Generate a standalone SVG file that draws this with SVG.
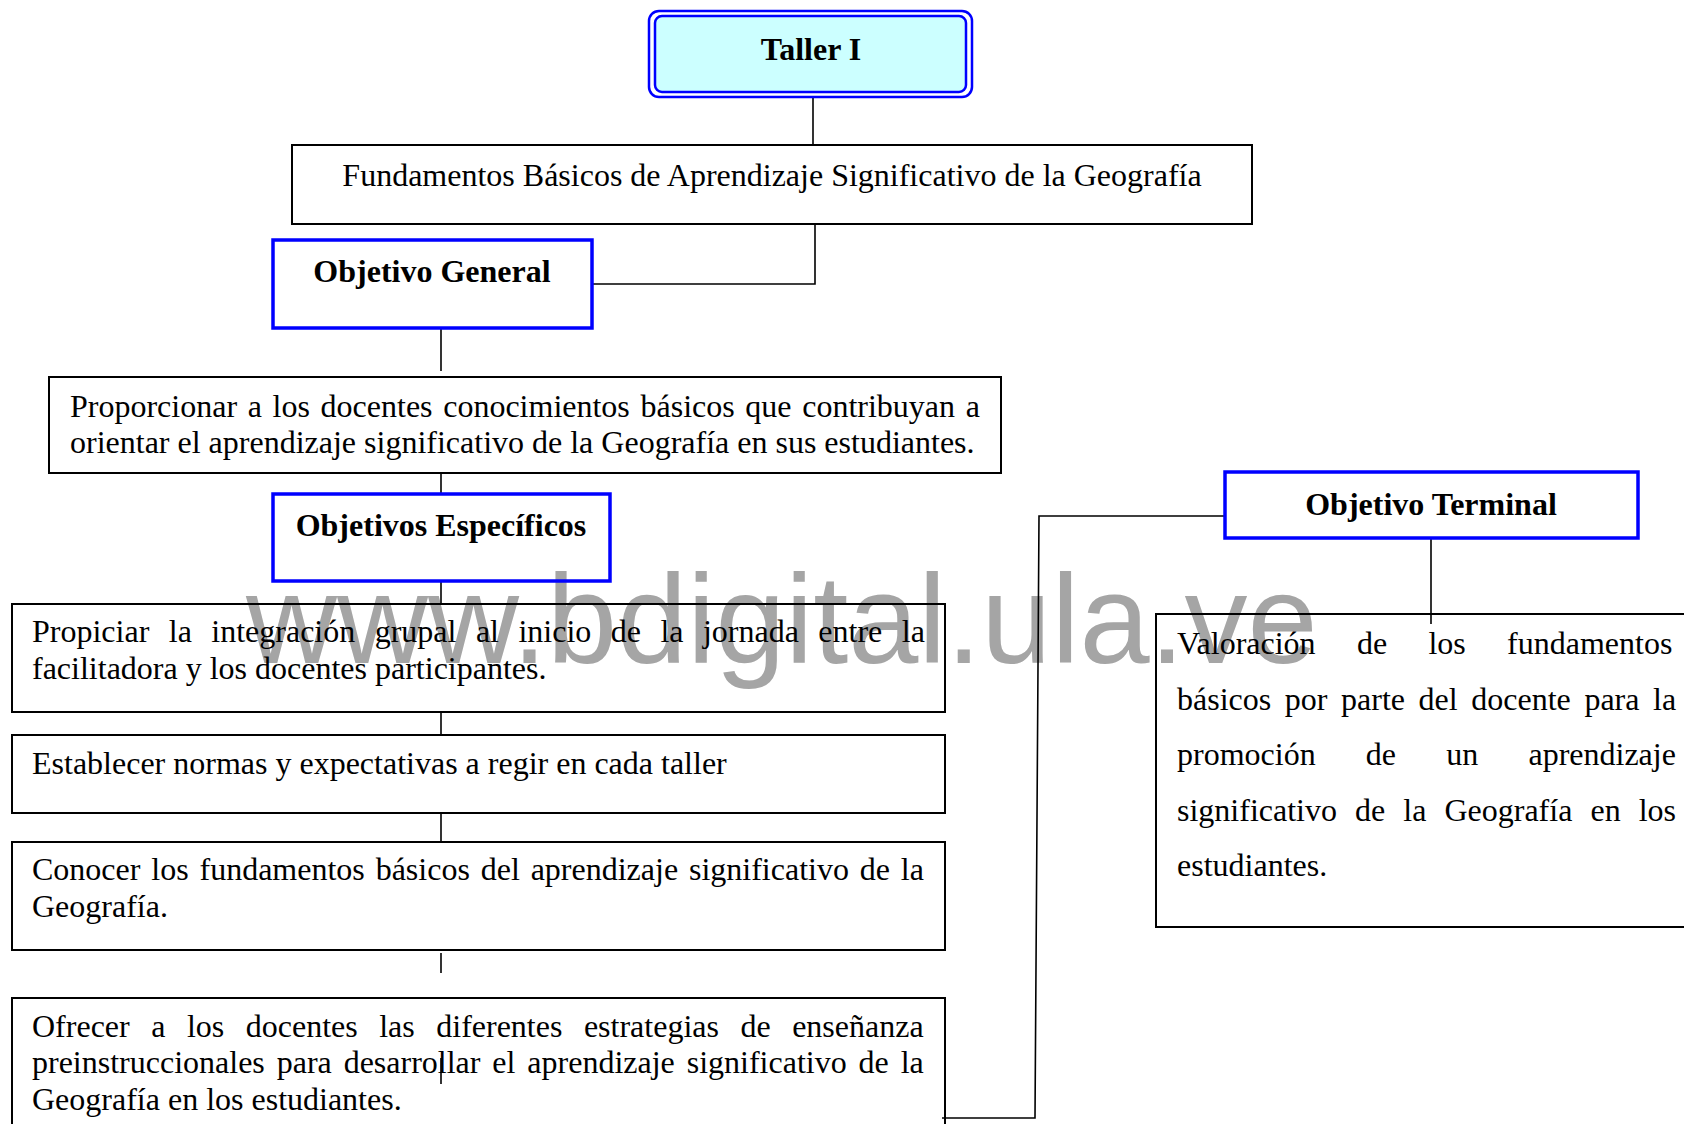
<svg xmlns="http://www.w3.org/2000/svg" width="1684" height="1124" viewBox="0 0 1684 1124">
<style>
.box{fill:none;stroke:#000;stroke-width:2}
.blue{fill:none;stroke:#0000FF;stroke-width:3.5}
.conn{fill:none;stroke:#000;stroke-width:1.6}
.t{font-family:"Liberation Serif","Times New Roman",serif;font-size:32px;fill:#000}
.b{font-weight:bold;text-anchor:middle}
.wm{font-family:"Liberation Sans",Arial,sans-serif;font-size:126px;fill:#A5A5A5}
</style>
<rect width="1684" height="1124" fill="#fff"/>
<g id="watermark"><text class="wm" x="246" y="663">www.bdigital.ula.ve</text></g>
<g id="connectors">
<path class="conn" d="M813 97V145"/>
<path class="conn" d="M815 224V284H592"/>
<path class="conn" d="M441 328V371"/>
<path class="conn" d="M441 473V494"/>
<path class="conn" d="M441 581V604"/>
<path class="conn" d="M441 711V735"/>
<path class="conn" d="M441 813V842"/>
<path class="conn" d="M441 953V973"/>
<path class="conn" d="M441 1058V1084"/>
<path class="conn" d="M942 1118H1035L1039 516H1225"/>
<path class="conn" d="M1431 538V624"/>
</g>
<g id="taller">
<rect x="649" y="11" width="323" height="86" rx="10" fill="#fff" stroke="#0000FF" stroke-width="2.5"/>
<rect x="655" y="16" width="311" height="76" rx="7" fill="#CCFFFF" stroke="#0000FF" stroke-width="2.5"/>
<text class="t b" x="811" y="60">Taller I</text>
</g>
<g id="fundamentos">
<rect class="box" x="292" y="145" width="960" height="79"/>
<text class="t" x="772" y="186" text-anchor="middle">Fundamentos Básicos de Aprendizaje Significativo de la Geografía</text>
</g>
<g id="objetivo-general">
<rect class="blue" x="273" y="240" width="319" height="88"/>
<text class="t b" x="432" y="282">Objetivo General</text>
</g>
<g id="proporcionar">
<rect class="box" x="49" y="377" width="952" height="96"/>
<text class="t" x="70" y="417" word-spacing="2.66">Proporcionar a los docentes conocimientos básicos que contribuyan a</text>
<text class="t" x="70" y="453">orientar el aprendizaje significativo de la Geografía en sus estudiantes.</text>
</g>
<g id="objetivos-especificos">
<rect class="blue" x="273" y="494" width="337" height="87"/>
<text class="t b" x="441" y="536">Objetivos Específicos</text>
</g>
<g id="propiciar">
<rect class="box" x="12" y="604" width="933" height="108"/>
<text class="t" x="32" y="642" word-spacing="11.45">Propiciar la integración grupal al inicio de la jornada entre la</text>
<text class="t" x="32" y="679">facilitadora y los docentes participantes.</text>
</g>
<g id="establecer">
<rect class="box" x="12" y="735" width="933" height="78"/>
<text class="t" x="32" y="774">Establecer normas y expectativas a regir en cada taller</text>
</g>
<g id="conocer">
<rect class="box" x="12" y="842" width="933" height="108"/>
<text class="t" x="32" y="880" word-spacing="2.86">Conocer los fundamentos básicos del aprendizaje significativo de la</text>
<text class="t" x="32" y="917">Geografía.</text>
</g>
<g id="ofrecer">
<rect class="box" x="12" y="998" width="933" height="140"/>
<text class="t" x="32" y="1037" word-spacing="13.5">Ofrecer a los docentes las diferentes estrategias de enseñanza</text>
<text class="t" x="32" y="1073" word-spacing="3.9">preinstruccionales para desarrollar el aprendizaje significativo de la</text>
<text class="t" x="32" y="1110">Geografía en los estudiantes.</text>
</g>
<g id="objetivo-terminal">
<rect class="blue" x="1225" y="472" width="413" height="66"/>
<text class="t b" x="1431" y="515">Objetivo Terminal</text>
</g>
<g id="valoracion">
<rect class="box" x="1156" y="614" width="540" height="313"/>
<text class="t" x="1177" y="654" word-spacing="33.3">Valoración de los fundamentos</text>
<text class="t" x="1177" y="709.5" word-spacing="5.6">básicos por parte del docente para la</text>
<text class="t" x="1177" y="765" word-spacing="42.2">promoción de un aprendizaje</text>
<text class="t" x="1177" y="820.5" word-spacing="10.06">significativo de la Geografía en los</text>
<text class="t" x="1177" y="876">estudiantes.</text>
</g>
</svg>
